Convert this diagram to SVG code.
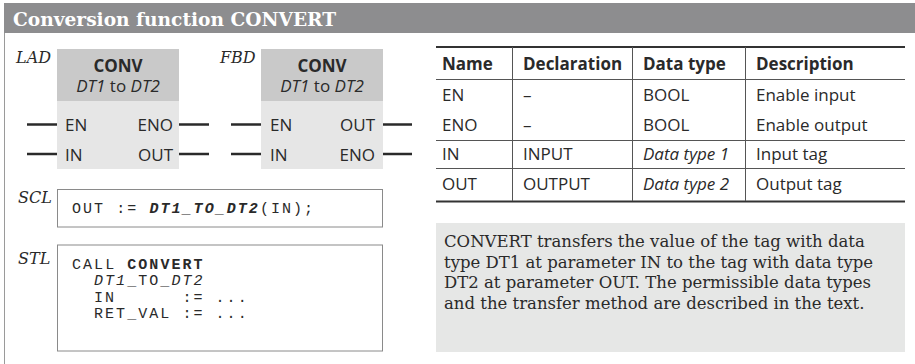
<svg xmlns="http://www.w3.org/2000/svg" width="915" height="364" viewBox="0 0 915 364">
<style>
.sans{font-family:"Open Sans","Noto Sans",sans-serif;font-size:17px;fill:#2a2a2a}
.b{font-weight:bold}
.i{font-style:italic}
.ser{font-family:"DejaVu Serif","Liberation Serif",serif;fill:#2a2a2a}
.lbl{font-family:"DejaVu Serif","Liberation Serif",serif;font-style:italic;font-size:16px;fill:#2a2a2a}
.mono{font-family:"Liberation Mono","DejaVu Sans Mono",monospace;font-size:15px;letter-spacing:2.05px;fill:#2a2a2a}
.lead{stroke:#2a2a2a;stroke-width:2.5;fill:none}
.box{fill:#fff;stroke:#8a8a8a;stroke-width:1}
.hd{fill:#c9c9c9}
.bd{fill:#e6e6e6}
.tl{stroke:#555;stroke-width:1;fill:none}
.tk{stroke:#333;stroke-width:2;fill:none}
</style>
<g id="header">
<rect x="4" y="3" width="911" height="30" fill="#8d8d8f"/>
<text x="13" y="26" class="ser b" style="font-size:18.6px;fill:#fff">Conversion function CONVERT</text>
</g>
<line x1="4.5" y1="33" x2="4.5" y2="364" stroke="#9a9a9a" stroke-width="1"/>

<g id="lad">
<text x="16" y="63" class="lbl">LAD</text>
<rect x="57" y="49" width="122" height="52" class="hd"/>
<rect x="57" y="101" width="122" height="68" class="bd"/>
<text x="118" y="72" class="sans b" text-anchor="middle">CONV</text>
<text x="118" y="91.5" class="sans" text-anchor="middle"><tspan class="i">DT1</tspan> to <tspan class="i">DT2</tspan></text>
<text x="65" y="130.5" class="sans">EN</text>
<text x="65" y="161" class="sans">IN</text>
<text x="173" y="130.5" class="sans" text-anchor="end">ENO</text>
<text x="173" y="161" class="sans" text-anchor="end">OUT</text>
</g>

<g id="fbd">
<text x="220" y="63" class="lbl">FBD</text>
<rect x="261" y="49" width="122" height="52" class="hd"/>
<rect x="261" y="101" width="122" height="68" class="bd"/>
<text x="322" y="72" class="sans b" text-anchor="middle">CONV</text>
<text x="322" y="91.5" class="sans" text-anchor="middle"><tspan class="i">DT1</tspan> to <tspan class="i">DT2</tspan></text>
<text x="270" y="130.5" class="sans">EN</text>
<text x="270" y="161" class="sans">IN</text>
<text x="375" y="130.5" class="sans" text-anchor="end">OUT</text>
<text x="375" y="161" class="sans" text-anchor="end">ENO</text>
</g>

<g id="connectors">
<line x1="27" y1="124.5" x2="57" y2="124.5" class="lead"/>
<line x1="27" y1="154" x2="57" y2="154" class="lead"/>
<line x1="179" y1="124.5" x2="209" y2="124.5" class="lead"/>
<line x1="179" y1="154" x2="209" y2="154" class="lead"/>
<line x1="231" y1="124.5" x2="261" y2="124.5" class="lead"/>
<line x1="231" y1="154" x2="261" y2="154" class="lead"/>
<line x1="383" y1="124.5" x2="412" y2="124.5" class="lead"/>
<line x1="383" y1="154" x2="412" y2="154" class="lead"/>
</g>

<g id="scl">
<text x="18" y="202.5" class="lbl">SCL</text>
<rect x="57.5" y="189.5" width="325" height="37.5" class="box"/>
<text x="72" y="213" class="mono" xml:space="preserve">OUT := <tspan class="b i">DT1_TO_DT2</tspan>(IN);</text>
</g>

<g id="stl">
<text x="18" y="264" class="lbl">STL</text>
<rect x="57.5" y="245" width="325" height="106" class="box"/>
<text class="mono" xml:space="preserve"><tspan x="72" y="268.5">CALL <tspan class="b">CONVERT</tspan></tspan><tspan x="94" y="285"><tspan class="i">DT1</tspan>_TO_<tspan class="i">DT2</tspan></tspan><tspan x="94" y="301.5">IN      := ...</tspan><tspan x="94" y="318">RET_VAL := ...</tspan></text>
</g>

<g id="table">
<line x1="436" y1="47" x2="905" y2="47" class="tk"/>
<line x1="436" y1="79.5" x2="905" y2="79.5" class="tl"/>
<line x1="436" y1="140.5" x2="905" y2="140.5" class="tl"/>
<line x1="436" y1="168.5" x2="905" y2="168.5" class="tl"/>
<line x1="436" y1="201.5" x2="905" y2="201.5" class="tk"/>
<line x1="512.5" y1="47" x2="512.5" y2="201" class="tl"/>
<line x1="632.5" y1="47" x2="632.5" y2="201" class="tl"/>
<line x1="745.5" y1="47" x2="745.5" y2="201" class="tl"/>
<text y="69.5" class="sans b"><tspan x="442">Name</tspan><tspan x="523">Declaration</tspan><tspan x="643">Data type</tspan><tspan x="756">Description</tspan></text>
<text y="100.5" class="sans"><tspan x="442">EN</tspan><tspan x="523">–</tspan><tspan x="643">BOOL</tspan><tspan x="756">Enable input</tspan></text>
<text y="130.5" class="sans"><tspan x="442">ENO</tspan><tspan x="523">–</tspan><tspan x="643">BOOL</tspan><tspan x="756">Enable output</tspan></text>
<text y="160" class="sans"><tspan x="442">IN</tspan><tspan x="523">INPUT</tspan><tspan x="643" class="i">Data type 1</tspan><tspan x="756">Input tag</tspan></text>
<text y="190" class="sans"><tspan x="442">OUT</tspan><tspan x="523">OUTPUT</tspan><tspan x="643" class="i">Data type 2</tspan><tspan x="756">Output tag</tspan></text>
</g>

<g id="note">
<rect x="436" y="223" width="469" height="129" fill="#e6e7e6"/>
<text class="ser" style="font-size:16.5px"><tspan x="444" y="247">CONVERT transfers the value of the tag with data</tspan><tspan x="444" y="267.7">type DT1 at parameter IN to the tag with data type</tspan><tspan x="444" y="288.4">DT2 at parameter OUT. The permissible data types</tspan><tspan x="444" y="309.1">and the transfer method are described in the text.</tspan></text>
</g>
</svg>
